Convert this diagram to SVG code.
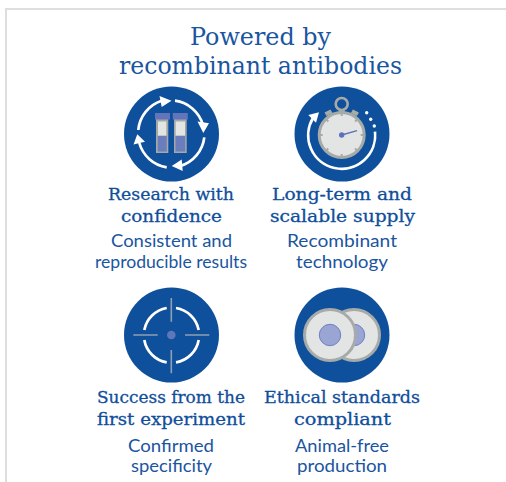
<svg xmlns="http://www.w3.org/2000/svg" width="506" height="482" viewBox="0 0 506 482">
<defs><style>
text{font-family:"DejaVu Serif","Liberation Serif",serif;fill:#1a559f;text-anchor:middle}
.t{font-size:24px}
.h{font-size:17px;fill:#0f4e9b;stroke:#0f4e9b;stroke-width:.3}
.s{font-size:17.500px;font-family:Lato,"Liberation Sans",sans-serif;font-weight:400;fill:#1a559f}
.bg{fill:#0f509c}
.w{fill:none;stroke:#fff;stroke-width:2.700}
.a{fill:#fff}
.g{fill:none;stroke:#8f9fb0;stroke-width:1.600}
.cap{fill:#6275bb}
.tube{fill:#a4a9a8}
.lite{fill:#e3e5e4}
.liq{fill:#6a7dbd}
.disc{fill:#e3e5e4;stroke:#a6aba9;stroke-width:3}
.in{fill:#9aa5d4;stroke:#6c81c2;stroke-width:1}
</style></defs>
<path d="M6 482V9H506" fill="none" stroke="#dedede" stroke-width="2"/>
<g id="title"><text class="t" x="260.500" y="45" textLength="141" lengthAdjust="spacingAndGlyphs">Powered by</text><text class="t" x="260.500" y="74" textLength="283" lengthAdjust="spacingAndGlyphs">recombinant antibodies</text></g>
<g id="node-research">
<circle class="bg" cx="171.500" cy="134" r="47.500"/>
<path class="w" d="M138.300 130A34 34 0 0 1 161.700 100.700M175 100.700A34 34 0 0 1 203 125M204.300 137.300A34 34 0 0 1 180 166M166.700 167.300A34 34 0 0 1 139.300 143"/>
<path class="a" d="M171.500 100.700L159.500 96L161.700 107ZM203.300 133L197.500 121.500L209 123.300ZM171.700 166L181.700 159.500L182.700 171ZM137.300 134.300L133.500 144.500L145 141.700Z"/>
<rect class="tube" x="156" y="118" width="12.300" height="35"/><rect class="tube" x="174" y="118" width="12.700" height="35"/>
<rect class="lite" x="158" y="121.500" width="8.300" height="14"/><rect class="lite" x="175.700" y="121.500" width="9.300" height="14"/>
<rect class="liq" x="157.700" y="136" width="9" height="15.500"/><rect class="liq" x="175.500" y="136" width="9.700" height="15.500"/>
<rect class="cap" x="155" y="113" width="15" height="6.500"/><rect class="cap" x="172.800" y="113" width="15" height="6.500"/>
<text class="h" x="171" y="199.500" textLength="126" lengthAdjust="spacingAndGlyphs">Research with</text><text class="h" x="171.500" y="222" textLength="101" lengthAdjust="spacingAndGlyphs">confidence</text>
<text class="s" x="171.500" y="247" textLength="121" lengthAdjust="spacingAndGlyphs">Consistent and</text><text class="s" x="171" y="268" textLength="152" lengthAdjust="spacingAndGlyphs">reproducible results</text>
</g>
<g id="node-supply">
<circle class="bg" cx="342" cy="134" r="47.500"/>
<path class="w" d="M375 131.700A33.500 33.500 0 1 1 313 118"/>
<path class="a" d="M319 112.300L308.300 115L316 122.700Z"/>
<circle class="a" cx="366.700" cy="112.700" r="1.700"/><circle class="a" cx="370.700" cy="119.300" r="1.700"/><circle class="a" cx="374.300" cy="126" r="1.700"/>
<circle cx="341.700" cy="104" r="6" fill="none" stroke="#a6aba9" stroke-width="2.600"/>
<path d="M338.700 109.500h6v3.500h-6ZM324.500 112.500l6-3 2 3.500-6 3ZM358.900 112.500l-6-3-2 3.500 6 3Z" fill="#a6aba9"/>
<circle cx="341.700" cy="135" r="22.500" fill="#e3e5e4" stroke="#a6aba9" stroke-width="3"/>
<path d="M341.700 112.500v3.500M341.700 154v3.500M319.200 135h3.500M360.700 135h3.500M325.800 119l2.500 2.500M355 148.500l2.500 2.500M357.600 119l-2.500 2.500M328.300 148.500l-2.500 2.500" stroke="#a6aba9" stroke-width="2"/>
<path d="M341.700 135L357 130.700" stroke="#5b72b8" stroke-width="1.400" fill="none"/><circle cx="341.700" cy="135" r="2.700" fill="#5b72b8"/>
<text class="h" x="342" y="199.500" textLength="140" lengthAdjust="spacingAndGlyphs">Long-term and</text><text class="h" x="342.500" y="222" textLength="145" lengthAdjust="spacingAndGlyphs">scalable supply</text>
<text class="s" x="342" y="247" textLength="110" lengthAdjust="spacingAndGlyphs">Recombinant</text><text class="s" x="342" y="268" textLength="92" lengthAdjust="spacingAndGlyphs">technology</text>
</g>
<g id="node-success">
<circle class="bg" cx="171.500" cy="335" r="47.500"/>
<path class="w" d="M144.300 330A27.700 27.700 0 0 1 166.700 308M176 308A27.700 27.700 0 0 1 198.700 330M198.700 340A27.700 27.700 0 0 1 176 362.400M166.700 362.400A27.700 27.700 0 0 1 144.300 340"/>
<path class="g" d="M133.300 335H157.700M185 335H209.300M171.300 298V321.700M171.300 350V373.300"/>
<circle cx="171.300" cy="335" r="4.300" fill="#5f76ba"/>
<text class="h" x="171" y="403" textLength="148" lengthAdjust="spacingAndGlyphs">Success from the</text><text class="h" x="171" y="425" textLength="148" lengthAdjust="spacingAndGlyphs">first experiment</text>
<text class="s" x="171" y="452" textLength="86" lengthAdjust="spacingAndGlyphs">Confirmed</text><text class="s" x="171.500" y="472" textLength="81" lengthAdjust="spacingAndGlyphs">specificity</text>
</g>
<g id="node-ethical">
<circle class="bg" cx="342" cy="335" r="47.500"/>
<circle class="disc" cx="354" cy="335" r="25.500"/><circle class="in" cx="354" cy="335" r="10.700"/>
<circle class="disc" cx="330" cy="335" r="25.500"/><circle class="in" cx="330" cy="335" r="10.700"/>
<text class="h" x="342" y="403" textLength="156" lengthAdjust="spacingAndGlyphs">Ethical standards</text><text class="h" x="342.500" y="425" textLength="97" lengthAdjust="spacingAndGlyphs">compliant</text>
<text class="s" x="342" y="452" textLength="94" lengthAdjust="spacingAndGlyphs">Animal-free</text><text class="s" x="342" y="472" textLength="90" lengthAdjust="spacingAndGlyphs">production</text>
</g>
<g id="connectors"/>
</svg>
